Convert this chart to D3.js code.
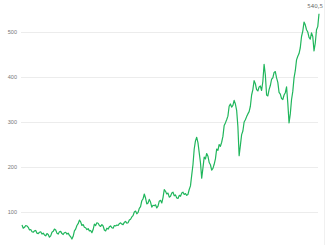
<!DOCTYPE html>
<html>
<head>
<meta charset="utf-8">
<script src="https://cdn.jsdelivr.net/npm/d3@7"></script>
<style>
  body { margin: 0; background: #fff; }
  svg { display: block; font-family: "DejaVu Sans", sans-serif; }
</style>
</head>
<body>
<div id="chart"></div>
<script>
            // data (one value every ~1.25px)
            var values = [71, 64, 66, 70, 69, 66, 60, 61, 56, 55,
                          58, 59, 53, 52, 55, 56, 51, 53, 49, 47,
                          52, 50, 44, 47, 55, 57, 62, 60, 53, 51,
                          56, 57, 52, 50, 54, 55, 51, 53, 48, 45,
                          40, 46, 58, 62, 70, 74, 82, 78, 70, 72,
                          66, 65, 61, 63, 58, 59, 54, 61, 73, 70,
                          76, 75, 70, 68, 72, 69, 60, 58, 64, 62,
                          67, 69, 65, 64, 70, 69, 71, 70, 74, 76,
                          73, 72, 77, 79, 75, 76, 82, 84, 89, 92,
                          100, 102, 96, 99, 108, 112, 125, 129, 140, 131,
                          118, 120, 128, 122, 111, 115, 114, 116, 109, 113,
                          124, 126, 120, 132, 150, 146, 140, 142, 133, 135,
                          142, 144, 136, 138, 131, 130, 137, 135, 142, 144,
                          139, 141, 137, 139, 150, 158, 182, 205, 240, 258,
                          266, 254, 232, 210, 175, 198, 222, 218, 230, 224,
                          210, 205, 193, 197, 206, 218, 240, 237, 250, 246,
                          255, 268, 292, 298, 305, 313, 335, 340, 333, 337,
                          348, 340, 326, 290, 225, 248, 272, 280, 300, 305,
                          312, 318, 323, 335, 360, 372, 392, 385, 372, 369,
                          378, 380, 370, 390, 428, 405, 360, 358, 372, 381,
                          395, 398, 410, 412, 398, 388, 366, 362, 352, 350,
                          360, 365, 378, 342, 298, 318, 350, 368, 398, 414,
                          438, 446, 452, 465, 490, 502, 522, 516, 505, 500,
                          488, 484, 498, 490, 458, 475, 505, 512, 540.5];
            var yTicks = [100, 200, 300, 400, 500];
            var lastLabel = "540,5";

            var w = 326;
            var h = 245;

            var xScale = d3.scaleLinear()
                            .domain([0, values.length - 1])
                            .range([22, 319]);

            var yScale = d3.scaleLinear()
                            .domain([0, 500])
                            .range([257, 32]);

            var svg = d3.select("#chart")
                        .append("svg")
                        .attr("width", w)
                        .attr("height", h);

            // grid lines + labels on the left
            var yAxis = d3.axisLeft(yScale)
                            .tickValues(yTicks)
                            .tickSize(-(318 - 21))
                            .tickPadding(4)
                            .tickFormat(d3.format("d"));

            var gy = svg.append("g")
                .attr("transform", "translate(21,0)")
                .call(yAxis);

            gy.select(".domain").remove();
            gy.selectAll(".tick line")
                .attr("stroke", "#ececec")
                .attr("stroke-width", 1);
            gy.selectAll(".tick text")
                .attr("fill", "#777")
                .attr("font-size", "5.5px");

            // faint right edge
            svg.append("line")
                .attr("x1", 324.5)
                .attr("x2", 324.5)
                .attr("y1", 0)
                .attr("y2", h)
                .attr("stroke", "#f0f0f0");

            var line = d3.line()
                .x(function(d, i) { return xScale(i); })
                .y(function(d) { return yScale(d); });

            svg.append("path")
                .datum(values)
                .attr("d", line)
                .attr("fill", "none")
                .attr("stroke", "rgb(32, 182, 92)")
                .attr("stroke-width", 1.2)
                .attr("stroke-linejoin", "round");

            // last value label
            svg.append("text")
                .attr("x", 323)
                .attr("y", 8)
                .attr("text-anchor", "end")
                .attr("font-size", "5.5px")
                .attr("fill", "#666")
                .text(lastLabel);
</script>
</body>
</html>
